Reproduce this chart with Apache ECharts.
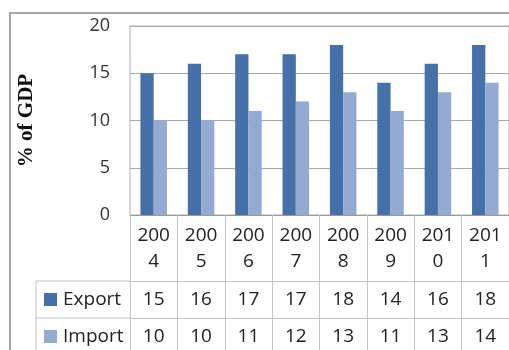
<!DOCTYPE html>
<html>
<head>
<meta charset="utf-8">
<script src="https://cdn.jsdelivr.net/npm/echarts@6/dist/echarts.min.js"></script>
<style>
  html, body { margin: 0; padding: 0; background: #fff; }
  #chart { width: 509px; height: 350px; }
</style>
</head>
<body>
<div id="chart"></div>
<script>
// chart data
const years = ['2004', '2005', '2006', '2007', '2008', '2009', '2010', '2011']
const exportValues = [15, 16, 17, 17, 18, 14, 16, 18]
const importValues = [10, 10, 11, 12, 13, 11, 13, 14]
const yTicks = { min: 0, max: 20, interval: 5 }

const font = '"Open Sans", "Noto Sans", sans-serif'
const tableLine = '#c4c4c4'
const exportColor = '#4570a8'
const importColor = '#93aad3'

const chart = echarts.init(document.getElementById('chart'))

// year labels wrap like the narrow cells in the source table
function wrapYear(y) {
  return y.slice(0, 3) + '\n' + y.slice(3)
}

const option = {
  animation: false,
  textStyle: { fontFamily: font },
  grid: {
    left: 130,
    top: 26,
    width: 385,
    height: 189,
    show: true,
    borderColor: '#b0b0b0',
    borderWidth: 1
  },
  legend: {
    orient: 'vertical',
    left: 44,
    top: 289,
    padding: 0,
    itemWidth: 13,
    itemHeight: 13,
    itemGap: 16,
    icon: 'rect',
    textStyle: { fontFamily: font, fontSize: 19, color: '#222', lineHeight: 21, padding: [0, 0, 0, 1] },
    data: ['Export', 'Import']
  },
  xAxis: [
    {
      type: 'category',
      data: years,
      axisLine: { lineStyle: { color: '#9a9a9a' } },
      axisTick: { show: true, length: 140, lineStyle: { color: tableLine } },
      axisLabel: {
        formatter: wrapYear,
        fontSize: 19,
        lineHeight: 26,
        color: '#222',
        margin: 8,
        interval: 0
      }
    },
    {
      type: 'category',
      data: exportValues.map(String),
      position: 'bottom',
      offset: 66,
      axisLine: { lineStyle: { color: tableLine } },
      axisTick: { show: false },
      axisLabel: { fontSize: 19, lineHeight: 22, color: '#222', margin: 8, interval: 0 }
    },
    {
      type: 'category',
      data: importValues.map(String),
      position: 'bottom',
      offset: 103,
      axisLine: { lineStyle: { color: tableLine } },
      axisTick: { show: false },
      axisLabel: { fontSize: 19, lineHeight: 22, color: '#222', margin: 8, interval: 0 }
    }
  ],
  yAxis: {
    type: 'value',
    min: yTicks.min,
    max: yTicks.max,
    interval: yTicks.interval,
    name: '% of GDP',
    nameLocation: 'middle',
    nameRotate: 90,
    nameGap: 93,
    nameTextStyle: {
      fontFamily: '"Liberation Serif", "DejaVu Serif", serif',
      fontWeight: 'bold',
      fontSize: 21,
      color: '#111'
    },
    axisLine: { show: false },
    axisTick: { show: false },
    axisLabel: { fontSize: 18, color: '#333', margin: 20 },
    splitLine: { lineStyle: { color: '#a8a8a8' } }
  },
  series: [
    {
      name: 'Export',
      type: 'bar',
      data: exportValues,
      barGap: '0%',
      barCategoryGap: '44%',
      itemStyle: { color: exportColor }
    },
    {
      name: 'Import',
      type: 'bar',
      data: importValues,
      itemStyle: { color: importColor }
    }
  ],
  graphic: [
    // outer chart frame (cut off right & bottom in the source)
    {
      type: 'rect',
      shape: { x: 10, y: 13, width: 600, height: 400 },
      style: { fill: 'none', stroke: '#8a8a8a', lineWidth: 1.5 },
      z: 0
    },
    // left part of the data table
    { type: 'line', shape: { x1: 36, y1: 281, x2: 130, y2: 281 }, style: { stroke: tableLine, lineWidth: 1 } },
    { type: 'line', shape: { x1: 36, y1: 318, x2: 130, y2: 318 }, style: { stroke: tableLine, lineWidth: 1 } },
    { type: 'line', shape: { x1: 36, y1: 281, x2: 36, y2: 360 }, style: { stroke: tableLine, lineWidth: 1 } }
  ]
}

chart.setOption(option)
</script>
</body>
</html>
